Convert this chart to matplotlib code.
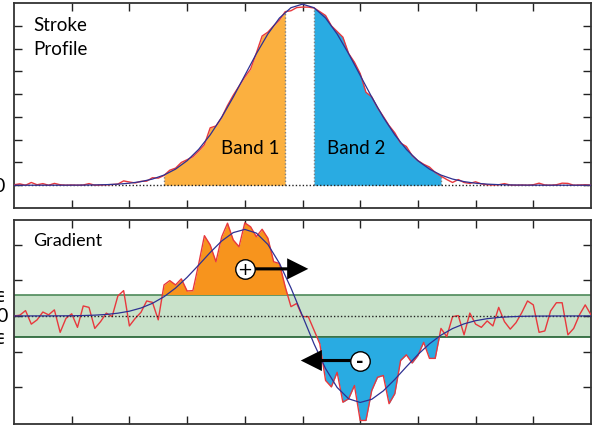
import numpy as np
import matplotlib
matplotlib.use('Agg')
import matplotlib.pyplot as plt

# ---------------- data ----------------
x_red = np.round(np.arange(0, 101) * 0.1, 2)
profile_red = [0.02, 0.06, 0.00, 0.12, 0.02, 0.07, 0.00, 0.08, 0.02, 0.00,
               0.01, 0.00, 0.01, 0.07, 0.00, 0.01, 0.02, 0.03, 0.05, 0.19,
               0.14, 0.10, 0.17, 0.18, 0.33, 0.31, 0.43, 0.66, 0.75, 1.00,
               1.12, 1.25, 1.50, 1.78, 2.52, 2.60, 2.98, 3.50, 3.95, 4.35,
               4.75, 5.10, 5.80, 6.55, 6.72, 7.00, 7.25, 7.62, 7.66, 7.80,
               7.82, 7.82, 7.78, 7.62, 7.45, 7.00, 6.75, 6.50, 5.78, 5.40,
               4.90, 4.08, 3.88, 3.40, 3.02, 2.62, 2.30, 1.85, 1.70, 1.30,
               1.08, 0.92, 0.80, 0.56, 0.40, 0.25, 0.12, 0.25, 0.12, 0.08,
               0.15, 0.06, 0.02, 0.01, 0.02, 0.07, 0.01, 0.00, 0.01, 0.00,
               0.02, 0.09, 0.01, 0.00, 0.02, 0.09, 0.08, 0.00, 0.01, 0.02,
               0.00]
gradient_red = [0.00, 0.02, 0.15, -0.23, -0.11, 0.11, 0.03, 0.17, -0.46, -0.07,
                0.06, -0.32, 0.28, 0.24, -0.35, -0.16, 0.08, -0.02, 0.56, 0.71,
                -0.28, -0.07, 0.10, 0.42, 0.38, -0.11, 0.87, 0.99, 0.87, 1.04,
                0.70, 0.71, 1.45, 2.25, 1.99, 1.52, 2.22, 2.60, 2.13, 1.94,
                2.61, 2.50, 2.22, 2.43, 2.18, 1.52, 1.47, 0.82, 0.26, 0.35,
                -0.02, -0.02, -0.40, -0.78, -1.81, -1.99, -1.58, -2.42, -2.32, -1.95,
                -2.93, -2.93, -2.09, -1.72, -1.67, -2.46, -2.18, -1.25, -1.09, -1.32,
                -1.11, -0.74, -1.19, -1.19, -0.35, -0.58, -0.02, 0.01, -0.53, 0.08,
                -0.23, -0.32, -0.14, -0.28, 0.24, -0.16, -0.37, -0.19, 0.09, 0.42,
                0.31, -0.46, -0.42, 0.14, 0.37, 0.37, -0.53, -0.35, 0.03, 0.31,
                0.03]

x_fit = np.round(np.arange(0, 51) * 0.2, 2)
profile_fit = [0.000, 0.000, 0.000, 0.001, 0.001, 0.003, 0.006, 0.012, 0.025, 0.048,
               0.088, 0.158, 0.271, 0.446, 0.707, 1.076, 1.573, 2.210, 2.984, 3.870,
               4.822, 5.773, 6.641, 7.339, 7.793, 7.950, 7.793, 7.339, 6.641, 5.773,
               4.822, 3.870, 2.984, 2.210, 1.573, 1.076, 0.707, 0.446, 0.271, 0.158,
               0.088, 0.048, 0.025, 0.012, 0.006, 0.003, 0.001, 0.001, 0.000, 0.000,
               0.000]
gradient_fit = [0.000, 0.000, 0.001, 0.001, 0.003, 0.005, 0.011, 0.022, 0.042, 0.077,
                0.133, 0.222, 0.354, 0.539, 0.782, 1.083, 1.425, 1.779, 2.102, 2.337,
                2.426, 2.324, 2.005, 1.477, 0.784, 0.000, -0.784, -1.477, -2.005, -2.324,
                -2.426, -2.337, -2.102, -1.779, -1.425, -1.083, -0.782, -0.539, -0.354, -0.222,
                -0.133, -0.077, -0.042, -0.022, -0.011, -0.005, -0.003, -0.001, -0.001, 0.000,
                0.000]

band1 = (2.6, 4.7)
band2 = (5.2, 7.4)
eps = 0.6
x_ticks = [1, 2, 3, 4, 5, 6, 7, 8, 9]
profile_yticks = [0, 1, 2, 3, 4, 5, 6, 7]
gradient_yticks = [-2, -1, 0, 1, 2]

pr = np.array(profile_red)
gr = np.array(gradient_red)

# ---------------- figure ----------------
W, H = 593, 427
fig = plt.figure(figsize=(W / 100, H / 100), dpi=100)
plt.rcParams['font.family'] = ['Lato', 'DejaVu Sans']

def axrect(l, t, r, b):
    return [l / W, 1 - b / H, (r - l) / W, (b - t) / H]

ax1 = fig.add_axes(axrect(14, 4, 591, 209))
ax2 = fig.add_axes(axrect(14, 221, 591, 425))

RED = '#E8383D'
NAVY = '#2E3192'
ORANGE1 = '#FBB040'
ORANGE2 = '#F7941D'
BLUE = '#29ABE2'

for ax in (ax1, ax2):
    ax.set_xlim(0, 10)
    ax.set_xticks(x_ticks)
    ax.tick_params(direction='in', length=6, width=1.0, color='#222',
                   top=True, right=True, labelbottom=False, labelleft=False)
    for s in ax.spines.values():
        s.set_linewidth(1.3)
        s.set_color('#333')

# ---- top panel ----
ax1.set_ylim(-1.0, 8.0)
ax1.set_yticks(profile_yticks)
m1 = (x_red >= band1[0] - 1e-9) & (x_red <= band1[1] + 1e-9)
m2 = (x_red >= band2[0] - 1e-9) & (x_red <= band2[1] + 1e-9)
ax1.fill_between(x_red, pr, 0, where=m1, color=ORANGE1, lw=0, zorder=1)
ax1.fill_between(x_red, pr, 0, where=m2, color=BLUE, lw=0, zorder=1)
edges = [band1[0], band1[1], band2[0], band2[1]]
edge_vals = [pr[int(round(e * 10))] for e in edges]
ax1.vlines(edges, 0, edge_vals, colors='#808080', linestyles=(0, (1, 1.5)), lw=1.0, zorder=2)
ax1.axhline(0, color='#222', ls=(0, (1, 1.5)), lw=1.0, zorder=2)
ax1.plot(x_red, pr, color=RED, lw=1.0, zorder=3)
ax1.plot(x_fit, profile_fit, color=NAVY, lw=0.9, zorder=4)

def ptext(px, py, s, **kw):
    fig.text(px / W, 1 - py / H, s, **kw)

ptext(33, 31, 'Stroke', fontsize=13.5, va='baseline', ha='left')
ptext(33, 55, 'Profile', fontsize=13.5, va='baseline', ha='left')
ptext(250, 154, 'Band 1', fontsize=13.5, va='baseline', ha='center')
ptext(356, 154, 'Band 2', fontsize=13.5, va='baseline', ha='center')
ptext(4.5, 186, '0', fontsize=14, va='center', ha='right')

# ---- bottom panel ----
ax2.set_ylim(-3.03, 2.69)
ax2.set_yticks(gradient_yticks)
ax2.axhspan(-eps, eps, color='#C9E2CA', lw=0, zorder=0)
ax2.axhline(eps, color='#4E8A5A', lw=1.2, zorder=1)
ax2.axhline(-eps, color='#1E5E2E', lw=1.2, zorder=1)
mo = (gr > eps) & (x_red >= 2.4) & (x_red <= 4.9)
mb = (gr < -eps) & (x_red >= 5.1) & (x_red <= 7.5)
ax2.fill_between(x_red, gr, eps, where=mo, interpolate=True, color=ORANGE2, lw=0, zorder=2)
ax2.fill_between(x_red, gr, -eps, where=mb, interpolate=True, color=BLUE, lw=0, zorder=2)
ax2.plot(x_red, gr, color=RED, lw=1.0, zorder=3)
ax2.axhline(0, color='#222', ls=(0, (1, 1.5)), lw=1.0, zorder=4)
ax2.plot(x_fit, gradient_fit, color=NAVY, lw=0.9, zorder=5)

ast = 'simple,head_length=0.95,head_width=0.95,tail_width=0.14'
ax2.annotate('', xy=(5.1, 1.32), xytext=(4.0, 1.32),
             arrowprops=dict(arrowstyle=ast, color='k', lw=0, mutation_scale=16,
                             shrinkA=0, shrinkB=0), zorder=6)
ax2.annotate('', xy=(4.97, -1.25), xytext=(6.0, -1.25),
             arrowprops=dict(arrowstyle=ast, color='k', lw=0, mutation_scale=16,
                             shrinkA=0, shrinkB=0), zorder=6)
ax2.plot([4.0], [1.32], 'o', ms=14, mfc='white', mec='k', mew=1.0, zorder=7)
ax2.plot([6.0], [-1.25], 'o', ms=14, mfc='white', mec='k', mew=1.0, zorder=7)
ax2.text(4.0, 1.32, '+', fontsize=13, ha='center', va='center', zorder=8,
         family=['DejaVu Sans'])
ax2.text(6.0, -1.25, '-', fontsize=13, ha='center', va='center', zorder=8,
         family=['DejaVu Sans'], fontweight='bold')

ptext(33, 246, 'Gradient', fontsize=13, va='baseline', ha='left')
ptext(7.5, 317, '0', fontsize=14, va='center', ha='right')
ptext(7.5, 296, '+\u03f5', fontsize=14, va='center', ha='right', family=['DejaVu Sans'])
ptext(7.5, 339, '\u2212\u03f5', fontsize=14, va='center', ha='right', family=['DejaVu Sans'])

fig.savefig('out.png', dpi=100)
